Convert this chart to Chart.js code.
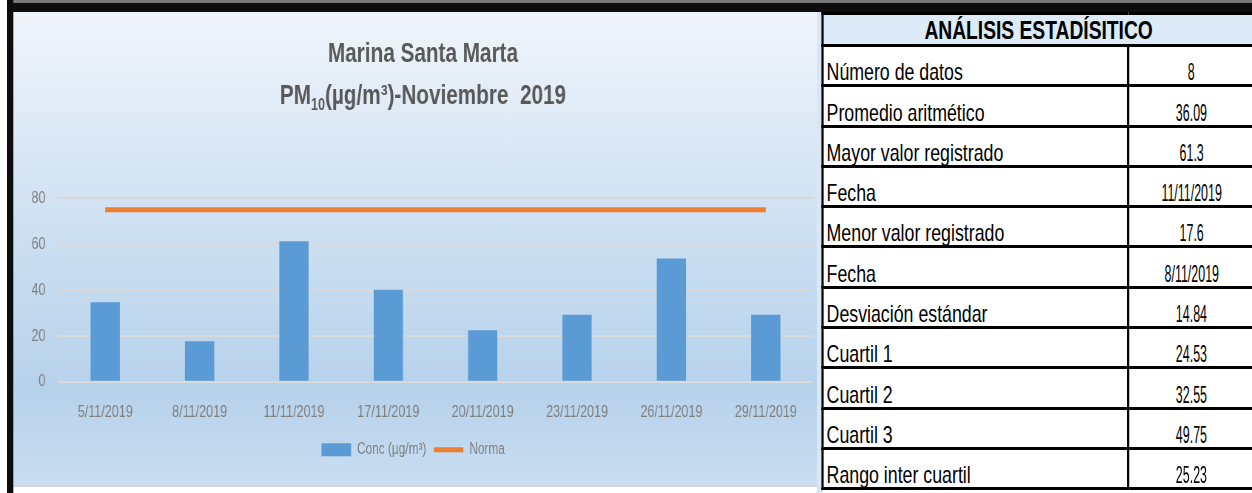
<!DOCTYPE html>
<html lang="es">
<head>
<meta charset="utf-8">
<title>Marina Santa Marta - PM10 Noviembre 2019</title>
<script src="https://cdn.jsdelivr.net/npm/chart.js@4.4.1/dist/chart.umd.min.js"></script>
<style>
  html, body { margin: 0; padding: 0; background: #fff; overflow: hidden; }
  body { width: 1252px; height: 493px; position: relative; }
  /* everything is laid out 1/0.74 wider, then squeezed like the narrow original */
  #page {
    position: absolute; left: 0; top: 0; width: 1692px; height: 493px;
    transform: scaleX(0.74); transform-origin: 0 0;
    font-family: "Liberation Sans", Arial, sans-serif;
  }
  .frameTop { position: absolute; left: 0; top: 0; width: 1692px; height: 12px;
    background: linear-gradient(#7a7a7a 0, #7a7a7a 3px, #0d0d0d 3px); z-index: 3; }
  .frameLeft { position: absolute; left: 0; top: 0; width: 17.6px; height: 493px;
    background: linear-gradient(to right, #fff 0, #fff 9.5px, #0d0d0d 9.5px); z-index: 3; }
  #chartBox {
    position: absolute; left: 17.6px; top: 12px; width: 1086px; height: 473px;
    background: linear-gradient(#f0f5fb 0%, #d3e3f3 38%, #b6d2eb 80%, #c9ddf1 100%);
    border-bottom: 2px solid #d6d6d6;
  }
  .gap { position: absolute; left: 1103.6px; top: 12px; width: 8px; height: 481px; background: #d9e6f3; }
  #stats {
    position: absolute; left: 1110px; top: 12px; width: 584px;
    border-collapse: collapse; table-layout: fixed; background: #fff;
  }
  #stats th, #stats td { border: 3px solid #000; padding: 0; line-height: 1; color: #000; }
  #stats th { background: #dcebf7; font-size: 26px; font-weight: bold; height: 29px; }
  #stats td { height: 37.3px; vertical-align: bottom; }
  #stats td.lab { font-size: 24px; padding-left: 4px; padding-bottom: 0; }
  #stats td.val { text-align: center; font-size: 24px; }
  #stats td.val span { display: inline-block; transform: scaleX(0.7); }
</style>
</head>
<body>
<div id="page">
  <div class="frameTop"></div>
  <div class="frameLeft"></div>
  <div id="chartBox"><canvas id="pmChart"></canvas></div>
  <div class="gap"></div>
  <table id="stats">
    <colgroup><col style="width:413px"><col style="width:171px"></colgroup>
    <thead><tr><th colspan="2" id="statsTitle"></th></tr></thead>
    <tbody id="statsBody"></tbody>
  </table>
</div>
<script>
// data
const fechas = ["5/11/2019", "8/11/2019", "11/11/2019", "17/11/2019", "20/11/2019", "23/11/2019", "26/11/2019", "29/11/2019"];
const concentracion = [34.7, 17.6, 61.3, 40.1, 22.4, 29.2, 53.7, 29.2];
const norma = [75, 75, 75, 75, 75, 75, 75, 75];
const yMin = 0, yMax = 80, yStep = 20;

const tituloLinea1 = "Marina Santa Marta";
const tituloPM = "PM";
const tituloSub = "10";
const tituloResto = "(µg/m³)-Noviembre  2019";
const serieConc = "Conc (µg/m³)";
const serieNorma = "Norma";

const tablaTitulo = "ANÁLISIS ESTADÍSITICO";
const tablaEtiquetas = ["Número de datos", "Promedio aritmético", "Mayor valor registrado", "Fecha",
  "Menor valor registrado", "Fecha", "Desviación estándar", "Cuartil 1", "Cuartil 2", "Cuartil 3", "Rango inter cuartil"];
const tablaValores = ["8", "36.09", "61.3", "11/11/2019", "17.6", "8/11/2019", "14.84", "24.53", "32.55", "49.75", "25.23"];

// statistics table
document.getElementById("statsTitle").textContent = tablaTitulo;
const body = document.getElementById("statsBody");
tablaEtiquetas.forEach((lab, i) => {
  const tr = document.createElement("tr");
  const td1 = document.createElement("td");
  td1.className = "lab";
  td1.textContent = lab;
  const td2 = document.createElement("td");
  td2.className = "val";
  const sp = document.createElement("span");
  sp.textContent = tablaValores[i];
  td2.appendChild(sp);
  tr.appendChild(td1);
  tr.appendChild(td2);
  body.appendChild(tr);
});

const fontFam = '"Liberation Sans", Arial, sans-serif';

// two line title with the subscript in PM10
const titlePlugin = {
  id: "tituloPM",
  afterDraw(chart) {
    const ctx = chart.ctx;
    const cx = 553.6;
    const big = "bold 28px " + fontFam;
    const small = "bold 17px " + fontFam;
    ctx.save();
    ctx.fillStyle = "#595959";
    ctx.textBaseline = "alphabetic";
    ctx.font = big;
    ctx.textAlign = "center";
    ctx.fillText(tituloLinea1, cx, 49.7);

    ctx.textAlign = "left";
    const wA = ctx.measureText(tituloPM).width;
    const wC = ctx.measureText(tituloResto).width;
    ctx.font = small;
    const wB = ctx.measureText(tituloSub).width;
    let x = cx - (wA + wB + wC) / 2;
    const base = 92.3;
    ctx.font = big;
    ctx.fillText(tituloPM, x, base);
    x += wA;
    ctx.font = small;
    ctx.fillText(tituloSub, x, base + 6);
    x += wB;
    ctx.font = big;
    ctx.fillText(tituloResto, x, base);
    ctx.restore();
  }
};

const ctx = document.getElementById("pmChart").getContext("2d");
new Chart(ctx, {
  type: "bar",
  data: {
    labels: fechas,
    datasets: [
      {
        label: serieConc,
        data: concentracion,
        backgroundColor: "#5b9bd5",
        borderWidth: 0,
        barPercentage: 0.31,
        categoryPercentage: 1,
        pointStyle: "rect"
      },
      {
        type: "line",
        label: serieNorma,
        data: norma,
        borderColor: "#ed7d31",
        backgroundColor: "#ed7d31",
        borderWidth: 5,
        pointRadius: 0,
        pointStyle: "line"
      }
    ]
  },
  options: {
    responsive: true,
    maintainAspectRatio: false,
    animation: false,
    layout: { padding: { top: 186.3, right: 5.4, left: 0, bottom: 17.3 } },
    plugins: {
      title: { display: false },
      tooltip: { enabled: false },
      legend: {
        position: "bottom",
        labels: {
          usePointStyle: true,
          pointStyleWidth: 40,
          boxHeight: 13,
          padding: 10,
          color: "#7f7f7f",
          font: { family: fontFam, size: 16 }
        }
      }
    },
    scales: {
      x: {
        grid: { display: false, drawTicks: false },
        border: { display: false },
        ticks: { color: "#808080", font: { family: fontFam, size: 17 }, padding: 20, maxRotation: 0, autoSkip: false },
        afterFit: s => { s.height = 50; }
      },
      y: {
        min: yMin,
        max: yMax,
        grid: { color: "#d9d9d9", lineWidth: 2, drawTicks: false },
        border: { display: false },
        ticks: { stepSize: yStep, color: "#808080", font: { family: fontFam, size: 17 }, padding: 17 },
        afterFit: s => { s.width = 60.4; }
      }
    }
  },
  plugins: [titlePlugin]
});
</script>
</body>
</html>
